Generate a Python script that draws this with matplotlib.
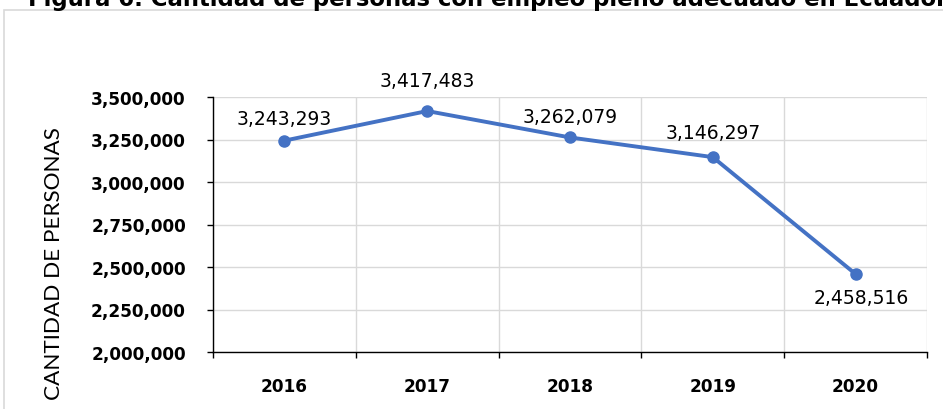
import matplotlib.pyplot as plt
from matplotlib.patches import Rectangle
from matplotlib.ticker import FuncFormatter, MultipleLocator, FixedLocator

years = ["2016", "2017", "2018", "2019", "2020"]
personas = [3243293, 3417483, 3262079, 3146297, 2458516]
label_offsets = [(0, 16), (0, 22), (0, 15), (0, 18), (4, -17)]

title = "Figura 6. Cantidad de personas con empleo pleno adecuado en Ecuador"
ylabel = "CANTIDAD DE PERSONAS"

W, H = 943, 410
fig = plt.figure(figsize=(W / 100, H / 100), dpi=100)
ax = fig.add_axes([213 / W, 1 - 353 / H, (927 - 213) / W, (353 - 98) / H])

# outer chart border (light gray, runs off the image on right / bottom)
fig.patches.append(Rectangle((4 / W, -0.1), 1.2, 1 - 11 / H + 0.1,
                             transform=fig.transFigure, fill=False,
                             edgecolor="#D9D9D9", linewidth=1.2))

fig.text(28 / W, 1 - 6 / H, title, fontsize=16.4, fontweight="bold",
         ha="left", va="baseline", color="black")

x = list(range(len(years)))
ax.plot(x, personas, color="#4472C4", linewidth=2.8, marker="o",
        markersize=8, zorder=3, solid_capstyle="round")

for i, v in enumerate(personas):
    ax.annotate(f"{v:,}", (x[i], v), xytext=label_offsets[i],
                textcoords="offset points", ha="center", va="center",
                fontsize=13.5, color="black")

ax.set_ylim(2000000, 3500000)
ax.set_xlim(-0.5, len(years) - 0.5)
ax.yaxis.set_major_locator(MultipleLocator(250000))
ax.yaxis.set_major_formatter(FuncFormatter(lambda v, p: f"{int(v):,}"))
ax.set_xticks(x)
ax.set_xticklabels(years)
ax.xaxis.set_minor_locator(FixedLocator([i - 0.5 for i in range(len(years) + 1)]))

ax.grid(axis="y", which="major", color="#D9D9D9", linewidth=1.0)
ax.grid(axis="x", which="minor", color="#D9D9D9", linewidth=1.0)
ax.set_axisbelow(True)

for s in ["top", "right"]:
    ax.spines[s].set_visible(False)
for s in ["left", "bottom"]:
    ax.spines[s].set_color("black")
    ax.spines[s].set_linewidth(1.0)

ax.tick_params(axis="y", direction="out", length=4.5, width=1.0, pad=15,
               labelsize=12.2, color="black")
ax.tick_params(axis="x", which="major", length=0, pad=18, labelsize=12.2)
ax.tick_params(axis="x", which="minor", direction="out", length=4.5, width=1.0,
               color="black")
for lab in ax.get_yticklabels() + ax.get_xticklabels():
    lab.set_fontweight("bold")

fig.text(54 / W, 1 - 264 / H, ylabel, rotation=90, ha="center", va="center",
         fontsize=16.2, family=["Lato", "DejaVu Sans"])

fig.savefig("out.png", dpi=100)
